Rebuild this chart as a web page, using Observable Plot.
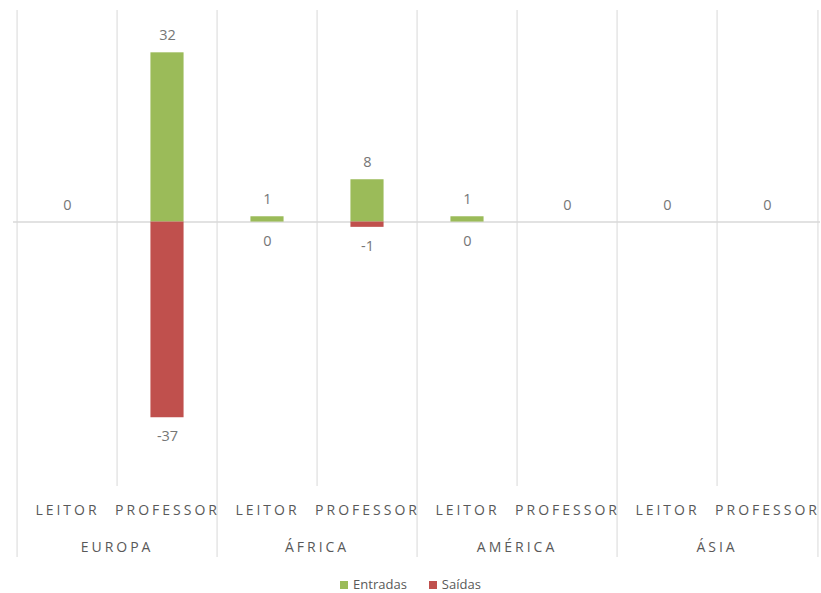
<!DOCTYPE html>
<html>
<head>
<meta charset="utf-8">
<script src="https://cdn.jsdelivr.net/npm/d3@7"></script>
<script src="https://cdn.jsdelivr.net/npm/@observablehq/plot@0.6"></script>
<style>
  body { margin: 0; background: #fff; font-family: "Open Sans", sans-serif; overflow: hidden; }
  #chart svg { display: block; }
  #legend { display: flex; justify-content: center; align-items: center; gap: 22px; height: 17px; line-height: 17px; padding-top: 1px; font-size: 13px; color: #595959; }
  #legend span.sw { display: inline-block; width: 8px; height: 8px; margin-right: 5px; }
  #legend .item { display: flex; align-items: center; }
</style>
</head>
<body>
<div id="chart"></div>
<div id="legend"></div>
<script>
const regions = ["EUROPA", "ÁFRICA", "AMÉRICA", "ÁSIA"];
const roles = ["LEITOR", "PROFESSOR"];
const entradas = [0, 32, 1, 8, 1, 0, 0, 0];
const saidas = [null, -37, 0, -1, 0, null, null, null];
const seriesNames = ["Entradas", "Saídas"];
const seriesColors = ["#9BBB59", "#C0504D"];

const keys = [];
regions.forEach(r => roles.forEach(ro => keys.push(r + "|" + ro)));
const entData = keys.map((k, i) => ({key: k, value: entradas[i]}));
const saiData = keys.map((k, i) => ({key: k, value: saidas[i]})).filter(d => d.value !== null);

const W = 821, H = 575, mL = 13, mR = 1, mT = 10, mB = 89;
const bw = (W - mL - mR) / keys.length;
const barW = 34;
const inset = (bw - barW) / 2;
const grid = "#D9D9D9";
const groupStarts = regions.map(r => r + "|" + roles[0]);
const innerKeys = regions.map(r => r + "|" + roles[1]);

const chart = Plot.plot({
  width: W, height: H,
  marginLeft: mL, marginRight: mR, marginTop: mT, marginBottom: mB,
  style: {fontFamily: "'Open Sans', sans-serif", background: "#fff"},
  x: {type: "band", domain: keys, padding: 0, label: null},
  y: {domain: [-50, 40], label: null, axis: null},
  marks: [
    Plot.ruleX(innerKeys, {x: d => d, dx: -bw / 2, stroke: grid, strokeWidth: 1}),
    Plot.ruleX(groupStarts, {x: d => d, dx: -bw / 2, stroke: grid, strokeWidth: 1, insetBottom: -71}),
    Plot.ruleX([keys[keys.length - 1]], {x: d => d, dx: bw / 2, stroke: grid, strokeWidth: 1, insetBottom: -71}),
    Plot.ruleY([0], {stroke: grid, strokeWidth: 1.5}),
    Plot.barY(entData, {x: "key", y: "value", fill: seriesColors[0], insetLeft: inset, insetRight: inset}),
    Plot.barY(saiData, {x: "key", y: "value", fill: seriesColors[1], insetLeft: inset, insetRight: inset}),
    Plot.text(entData, {x: "key", y: "value", text: d => String(d.value), dy: -17, lineAnchor: "middle", fill: "#767676", fontSize: 14.5}),
    Plot.text(saiData, {x: "key", y: "value", text: d => String(d.value), dy: 19, lineAnchor: "middle", fill: "#767676", fontSize: 14.5}),
    Plot.axisX({anchor: "bottom", tickSize: 0, tickPadding: 19, tickFormat: k => k.split("|")[1], fontSize: 14, fill: "#595959", label: null}),
    Plot.text(innerKeys, {x: d => d, dx: -bw / 2, frameAnchor: "bottom", dy: 61, lineAnchor: "middle", text: d => d.split("|")[0], fill: "#595959", fontSize: 14})
  ]
});
const svg = d3.select(chart);
svg.selectAll("g[aria-label='x-axis tick label'] text").style("letter-spacing", "3px");
svg.selectAll("g[aria-label='text']").filter((d, i, n) => i === n.length - 1).selectAll("text").style("letter-spacing", "3px");
document.getElementById("chart").appendChild(chart);

const legend = document.getElementById("legend");
seriesNames.forEach((n, i) => {
  const it = document.createElement("div");
  it.className = "item";
  it.innerHTML = `<span class="sw" style="background:${seriesColors[i]}"></span>${n}`;
  legend.appendChild(it);
});
</script>
</body>
</html>
